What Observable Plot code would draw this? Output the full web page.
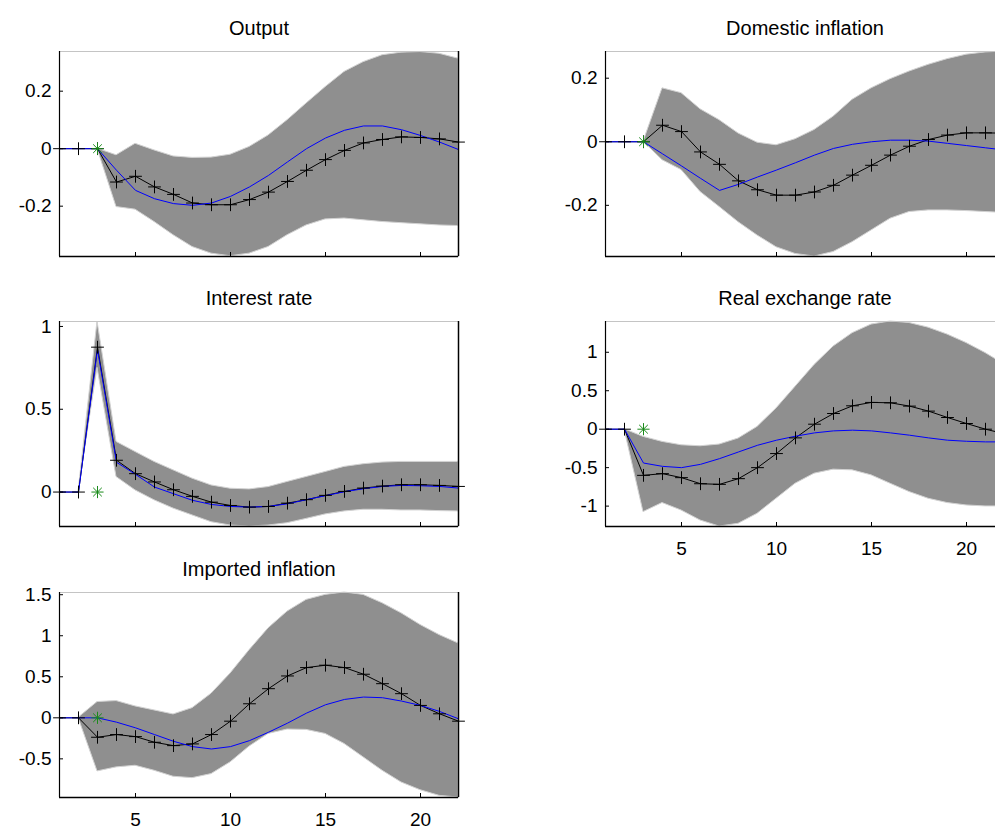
<!DOCTYPE html>
<html>
<head>
<meta charset="utf-8">
<script src="https://cdn.jsdelivr.net/npm/d3@7"></script>
<script src="https://cdn.jsdelivr.net/npm/@observablehq/plot@0.6"></script>
<style>
html, body { margin: 0; padding: 0; background: #fff; overflow: hidden; width: 995px; height: 829px; }
#chart { position: relative; width: 995px; height: 829px; overflow: hidden; background: #fff; }
.panel { position: absolute; }
.panel svg { max-width: none !important; }
</style>
</head>
<body>
<div id="chart"></div>
<script>
// ---------- data ----------
const periods = [1,2,3,4,5,6,7,8,9,10,11,12,13,14,15,16,17,18,19,20,21,22];
const xDomain = [1, 22];
const xTicks = [5, 10, 15, 20];
const shockPeriod = [3];
const shockValue = [0];

// Output
const outputMean = [0,0,0,-0.116,-0.096,-0.133,-0.159,-0.189,-0.195,-0.195,-0.177,-0.151,-0.114,-0.075,-0.038,-0.006,0.020,0.032,0.041,0.039,0.034,0.023];
const outputAlt  = [0,0,0,-0.075,-0.145,-0.174,-0.191,-0.197,-0.189,-0.166,-0.133,-0.093,-0.046,0.000,0.037,0.064,0.079,0.079,0.066,0.046,0.023,-0.003];
const outputLo   = [null,null,0,-0.203,-0.212,-0.255,-0.301,-0.342,-0.365,-0.374,-0.365,-0.342,-0.301,-0.267,-0.246,-0.243,-0.249,-0.255,-0.259,-0.263,-0.267,-0.269];
const outputHi   = [null,null,0,-0.023,0.017,-0.006,-0.027,-0.032,-0.031,-0.021,0.006,0.046,0.099,0.157,0.214,0.267,0.301,0.325,0.334,0.336,0.330,0.313];
const outputYDomain = [-0.375, 0.338];
const outputYTicks = [-0.2, 0, 0.2];

// Domestic inflation
const domMean = [0,0,0,0.052,0.032,-0.032,-0.071,-0.123,-0.151,-0.168,-0.168,-0.158,-0.137,-0.105,-0.074,-0.042,-0.014,0.007,0.021,0.028,0.028,0.027];
const domAlt  = [0,0,0,-0.038,-0.076,-0.115,-0.153,-0.134,-0.111,-0.089,-0.066,-0.042,-0.021,-0.008,0.000,0.005,0.005,0.002,-0.005,-0.012,-0.019,-0.026];
const domLo   = [null,null,0,-0.058,-0.089,-0.158,-0.205,-0.253,-0.295,-0.332,-0.353,-0.361,-0.347,-0.316,-0.279,-0.242,-0.221,-0.216,-0.216,-0.218,-0.221,-0.224];
const domHi   = [null,null,0,0.168,0.153,0.102,0.068,0.026,-0.003,-0.011,0.008,0.037,0.079,0.132,0.168,0.197,0.221,0.242,0.260,0.274,0.281,0.284];
const domYDomain = [-0.361, 0.284];
const domYTicks = [-0.2, 0, 0.2];

// Interest rate
const intMean = [0,0,0.875,0.192,0.111,0.061,0.014,-0.026,-0.061,-0.081,-0.091,-0.087,-0.067,-0.046,-0.020,0.004,0.024,0.036,0.044,0.044,0.040,0.034];
const intAlt  = [0,0,0.860,0.180,0.107,0.030,-0.010,-0.050,-0.075,-0.087,-0.091,-0.087,-0.071,-0.046,-0.022,0.002,0.020,0.034,0.040,0.038,0.034,0.024];
const intLo   = [null,0,0.750,0.091,0.010,-0.050,-0.100,-0.141,-0.182,-0.202,-0.208,-0.202,-0.188,-0.162,-0.135,-0.117,-0.107,-0.107,-0.111,-0.111,-0.115,-0.117];
const intHi   = [null,0,1.030,0.303,0.242,0.182,0.131,0.081,0.040,0.020,0.016,0.030,0.061,0.091,0.121,0.152,0.168,0.178,0.182,0.182,0.182,0.182];
const intYDomain = [-0.208, 1.03];
const intYTicks = [0, 0.5, 1];

// Real exchange rate
const rerMean = [0,0,-0.600,-0.578,-0.630,-0.709,-0.717,-0.643,-0.500,-0.317,-0.113,0.065,0.204,0.304,0.348,0.343,0.300,0.235,0.152,0.074,0.000,-0.060];
const rerAlt  = [0,0,-0.440,-0.483,-0.500,-0.457,-0.383,-0.296,-0.209,-0.143,-0.091,-0.048,-0.022,-0.013,-0.022,-0.048,-0.078,-0.113,-0.143,-0.157,-0.165,-0.165];
const rerLo   = [null,0,-1.078,-0.960,-1.057,-1.187,-1.265,-1.230,-1.100,-0.904,-0.709,-0.578,-0.526,-0.535,-0.600,-0.709,-0.817,-0.904,-0.960,-0.991,-1.004,-1.004];
const rerHi   = [null,0,-0.100,-0.165,-0.209,-0.222,-0.200,-0.122,0.030,0.270,0.552,0.835,1.074,1.248,1.360,1.400,1.380,1.320,1.230,1.120,0.990,0.840];
const rerYDomain = [-1.265, 1.40];
const rerYTicks = [-1, -0.5, 0, 0.5, 1];

// Imported inflation
const impMean = [0,0,-0.237,-0.204,-0.229,-0.298,-0.339,-0.318,-0.204,-0.041,0.171,0.355,0.510,0.612,0.641,0.612,0.531,0.416,0.294,0.151,0.049,-0.041];
const impAlt  = [0,0,0,-0.053,-0.122,-0.204,-0.286,-0.351,-0.380,-0.351,-0.278,-0.176,-0.065,0.057,0.159,0.224,0.253,0.245,0.204,0.151,0.078,-0.012];
const impLo   = [null,0,-0.653,-0.604,-0.584,-0.645,-0.718,-0.735,-0.686,-0.543,-0.351,-0.196,-0.143,-0.147,-0.196,-0.318,-0.482,-0.645,-0.788,-0.882,-0.951,-0.971];
const impHi   = [null,0,0.192,0.204,0.139,0.090,0.041,0.118,0.294,0.539,0.824,1.090,1.294,1.437,1.498,1.527,1.498,1.396,1.273,1.131,1.008,0.906];
const impYDomain = [-0.971, 1.527];
const impYTicks = [-0.5, 0, 0.5, 1, 1.5];

// ---------- layout ----------
const W = 399, H = 205, ML = 59, MT = 51, MR = 25, MB = 36;
const FONT = "'Liberation Sans', Arial, Helvetica, sans-serif";
const BAND = "#8f8f8f", BAND_EDGE = "#d2d2d2", GREEN = "#1a8a1a";

function makePanel(cfg) {
  const rows = periods.map((t, i) => ({t, mean: cfg.mean[i], alt: cfg.alt[i], lo: cfg.lo[i], hi: cfg.hi[i]}));
  const band = rows.filter(d => d.lo != null && d.hi != null);
  const shock = shockPeriod.map((t, i) => ({t, v: shockValue[i]}));
  const marks = [
    Plot.areaY(band, {x: "t", y1: "lo", y2: "hi", fill: BAND, stroke: BAND_EDGE, strokeWidth: 1}),
    Plot.frame({stroke: "#c4c4c4", strokeWidth: 1}),
    Plot.lineY(rows, {x: "t", y: "mean", stroke: "#000", strokeWidth: 1}),
    Plot.lineY(rows, {x: "t", y: "alt", stroke: "#0000ff", strokeWidth: 1}),
    Plot.dot(rows, {x: "t", y: "mean", symbol: "plus", r: 4.2, stroke: "#000", fill: "none", strokeWidth: 1}),
    Plot.dot(shock, {x: "t", y: "v", symbol: "plus", r: 4.0, stroke: GREEN, fill: "none", strokeWidth: 1}),
    Plot.dot(shock, {x: "t", y: "v", symbol: "times", r: 4.0, stroke: GREEN, fill: "none", strokeWidth: 1}),
    Plot.ruleX([xDomain[0]], {stroke: "#000", strokeWidth: 1.2}),
    Plot.ruleX([xDomain[1]], {stroke: "#000", strokeWidth: 1.5}),
    Plot.ruleY([cfg.yDomain[0]], {stroke: "#000", strokeWidth: 1.5}),
    Plot.tickX(xTicks, {x: d => d, insetTop: H - 4, stroke: "#000", strokeWidth: 1}),
    Plot.tickY(cfg.yTicks, {y: d => d, insetRight: W - 4, stroke: "#000", strokeWidth: 1}),
    Plot.axisY(cfg.yTicks, {tickSize: 0, tickPadding: 8, tickFormat: d => String(d), fontSize: 19, label: null}),
    Plot.text([cfg.title], {frameAnchor: "top", dy: -17, lineAnchor: "bottom", fontSize: 20, fill: "#000"})
  ];
  if (cfg.showX) marks.push(Plot.axisX(xTicks, {tickSize: 0, tickPadding: 15, tickFormat: d => String(d), fontSize: 19, label: null}));
  const svg = Plot.plot({
    width: ML + W + MR,
    height: MT + H + MB,
    marginLeft: ML, marginTop: MT, marginRight: MR, marginBottom: MB,
    x: {domain: xDomain, label: null, ...(cfg.showX ? {} : {axis: null})},
    y: {domain: cfg.yDomain, label: null},
    style: {fontFamily: FONT, fontSize: "19px", color: "#000", background: "transparent", overflow: "visible", maxWidth: "none"},
    marks
  });
  svg.style.maxWidth = "none";
  const wrap = document.createElement("div");
  wrap.className = "panel";
  wrap.style.left = cfg.left + "px";
  wrap.style.top = cfg.top + "px";
  wrap.style.width = (ML + W + MR) + "px";
  wrap.appendChild(svg);
  document.getElementById("chart").appendChild(wrap);
}

makePanel({title: "Output", mean: outputMean, alt: outputAlt, lo: outputLo, hi: outputHi, yDomain: outputYDomain, yTicks: outputYTicks, showX: false, left: 0, top: 0});
makePanel({title: "Domestic inflation", mean: domMean, alt: domAlt, lo: domLo, hi: domHi, yDomain: domYDomain, yTicks: domYTicks, showX: false, left: 546, top: 0});
makePanel({title: "Interest rate", mean: intMean, alt: intAlt, lo: intLo, hi: intHi, yDomain: intYDomain, yTicks: intYTicks, showX: false, left: 0, top: 270});
makePanel({title: "Real exchange rate", mean: rerMean, alt: rerAlt, lo: rerLo, hi: rerHi, yDomain: rerYDomain, yTicks: rerYTicks, showX: true, left: 546, top: 270});
makePanel({title: "Imported inflation", mean: impMean, alt: impAlt, lo: impLo, hi: impHi, yDomain: impYDomain, yTicks: impYTicks, showX: true, left: 0, top: 541});
</script>
</body>
</html>
